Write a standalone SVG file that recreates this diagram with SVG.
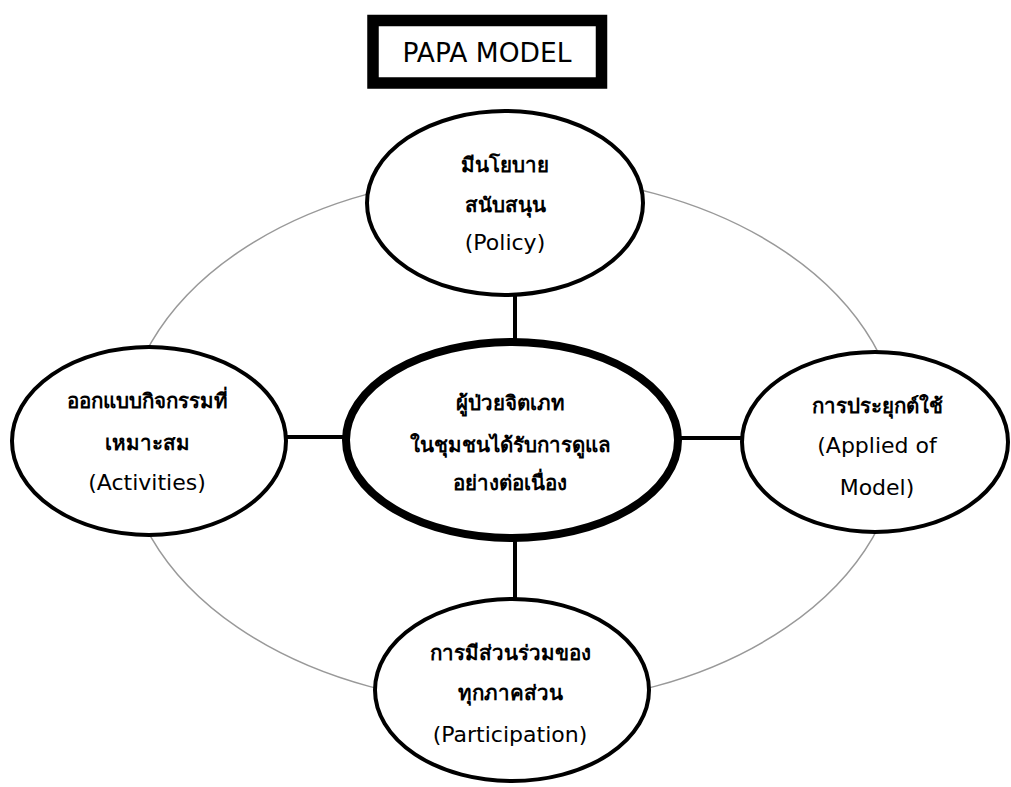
<svg xmlns="http://www.w3.org/2000/svg" width="1011" height="787" viewBox="0 0 1011 787">
<style>
.node{fill:#fff;stroke:#000;stroke-width:4}
.th{font-family:"DejaVu Sans","Noto Sans",Tahoma,sans-serif;font-size:20.5px;font-weight:bold;text-anchor:middle;fill:#000}
.en{font-family:"DejaVu Sans","Noto Sans",sans-serif;font-size:22px;text-anchor:middle;fill:#000}
.conn{stroke:#000;stroke-width:4;fill:none}
</style>
<rect width="1011" height="787" fill="#fff"/>
<g id="title">
<rect x="373" y="20.5" width="228.5" height="62.5" fill="#fff" stroke="#000" stroke-width="11.5"/>
<text x="487" y="62" font-family="DejaVu Sans,sans-serif" font-size="26.5" text-anchor="middle">PAPA MODEL</text>
</g>
<g id="ring">
<ellipse cx="512" cy="440" rx="388" ry="265" fill="none" stroke="#999" stroke-width="1.5"/>
</g>
<g id="connectors">
<line class="conn" x1="515" y1="294" x2="515" y2="342"/>
<line class="conn" x1="515" y1="538" x2="515" y2="600"/>
<line class="conn" x1="285" y1="437" x2="347" y2="437"/>
<line class="conn" x1="678" y1="438" x2="744" y2="438"/>
</g>
<g id="policy">
<ellipse class="node" cx="505" cy="203" rx="138" ry="92"/>
<text class="th" x="505" y="172">มีนโยบาย</text>
<text class="th" x="505" y="212">สนับสนุน</text>
<text class="en" x="505" y="250">(Policy)</text>
</g>
<g id="activities">
<ellipse class="node" cx="149" cy="441" rx="137" ry="94"/>
<text class="th" x="147" y="408">ออกแบบกิจกรรมที่</text>
<text class="th" x="147" y="450">เหมาะสม</text>
<text class="en" x="147" y="490">(Activities)</text>
</g>
<g id="center">
<ellipse cx="512" cy="440" rx="166" ry="98" fill="#fff" stroke="#000" stroke-width="8"/>
<text class="th" x="510" y="410">ผู้ป่วยจิตเภท</text>
<text class="th" x="510" y="452">ในชุมชนได้รับการดูแล</text>
<text class="th" x="510" y="490">อย่างต่อเนื่อง</text>
</g>
<g id="applied">
<ellipse class="node" cx="875" cy="442" rx="133" ry="90"/>
<text class="th" x="877" y="413">การประยุกต์ใช้</text>
<text class="en" x="877" y="453">(Applied of</text>
<text class="en" x="877" y="495">Model)</text>
</g>
<g id="participation">
<ellipse class="node" cx="512" cy="690" rx="137" ry="91"/>
<text class="th" x="510" y="660">การมีส่วนร่วมของ</text>
<text class="th" x="510" y="700">ทุกภาคส่วน</text>
<text class="en" x="510" y="742">(Participation)</text>
</g>
</svg>
